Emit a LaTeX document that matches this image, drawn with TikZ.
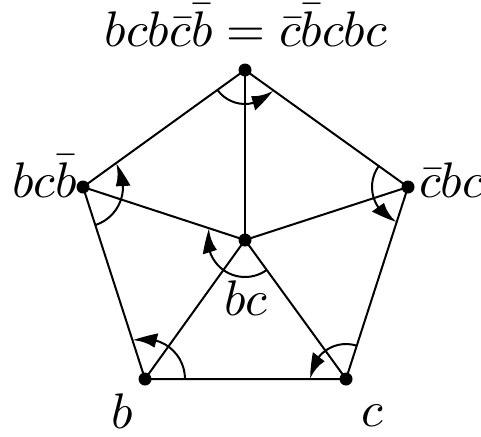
\documentclass[tikz,border=0pt]{standalone}
\usepackage{graphicx}
\usetikzlibrary{arrows.meta,bending}
\begin{document}
\begin{tikzpicture}[x=0.5pt,y=0.5pt,line width=1pt,
  dot/.style={circle,fill=black,inner sep=0pt,minimum size=6.5pt},
  lbl/.style={inner sep=0pt},
  arcarrow/.style={-{Latex[length=12pt,width=7.5pt,bend]}}]
\useasboundingbox (0,0) rectangle (481,436);
\node[dot] (T) at (245,366) {};
\node[dot] (L) at (83,249) {};
\node[dot] (R) at (408,249) {};
\node[dot] (BL) at (145,57) {};
\node[dot] (BR) at (346,57) {};
\node[dot] (C) at (245,196) {};
\draw (T.center) -- (L.center) -- (BL.center) -- (BR.center) -- (R.center) -- (T.center);
\foreach \v in {T,L,R,BL,BR} \draw (C.center) -- (\v.center);
% arcs
\draw[arcarrow] (T.center) ++(215.8:34) arc[start angle=215.8, end angle=324.3, radius=34];
\draw[arcarrow] (L.center) ++(-72.1:40) arc[start angle=-72.1, end angle=35.8, radius=40];
\draw[arcarrow] (R.center) ++(144.3:36) arc[start angle=144.3, end angle=252.1, radius=36];
\draw[arcarrow] (C.center) ++(-54:37) arc[start angle=-54, end angle=-198.1, radius=37];
\draw[arcarrow] (BL.center) ++(0:40) arc[start angle=0, end angle=107.9, radius=40];
\draw[arcarrow] (BR.center) ++(72.1:35) arc[start angle=72.1, end angle=180, radius=35];
% labels
\node[lbl,anchor=base] (tl) at (246,390) {\scalebox{2.5}{$bcb\bar{c}\bar{b}=\bar{c}\bar{b}cbc$}};
\node[lbl,anchor=base east] (ll) at (78,239) {\scalebox{2.5}{$bc\bar{b}$}};
\node[lbl,anchor=base west] (rl) at (418,239) {\scalebox{2.5}{$\bar{c}bc$}};
\node[lbl,anchor=base] (bl) at (122,8) {\scalebox{2.5}{$b$}};
\node[lbl,anchor=base] (brl) at (372,10) {\scalebox{2.5}{$c$}};
\node[lbl,anchor=base] (cl) at (246,121) {\scalebox{2.5}{$bc$}};
\end{tikzpicture}
\end{document}
